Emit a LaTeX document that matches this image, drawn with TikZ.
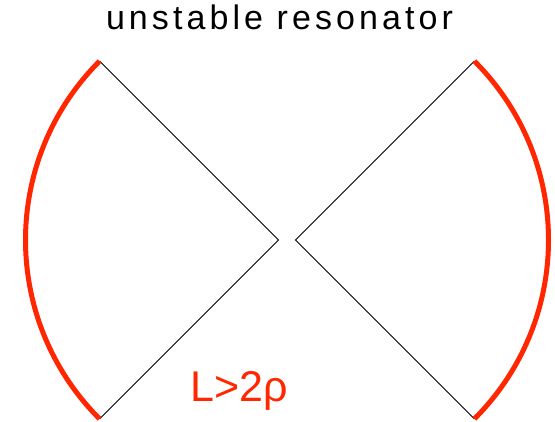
\documentclass[tikz,border=0pt]{standalone}
\usepackage{fontspec}
\setmainfont{Liberation Sans}
\newfontfamily\titlefont[LetterSpace=12]{Liberation Sans}
\usepackage{tikz}
\usetikzlibrary{calc}
\definecolor{mirrorred}{RGB}{255,38,0}
\tikzset{
mirror/.style={draw=mirrorred,line width=5pt},
ray/.style={draw=black,line width=0.8pt},
}

\begin{document}
\begin{tikzpicture}[x=1pt,y=1pt]
\useasboundingbox (0,0) rectangle (555,422);
\coordinate (focL) at (278.5,182);
\coordinate (focR) at (295.5,182);
\coordinate (mLtop) at ($(focL)+(135:253)$);
\coordinate (mLbot) at ($(focL)+(225:253)$);
\coordinate (mRtop) at ($(focR)+(45:253)$);
\coordinate (mRbot) at ($(focR)+(-45:253)$);
\node (title) [anchor=base,inner sep=0pt] at (279.5,392) {\titlefont\fontsize{34}{40}\selectfont unstable resonator};
\node (cond) [anchor=base west,inner sep=0pt,text=mirrorred] at (190,20) {\fontsize{43}{50}\selectfont L>2ρ};
\draw[ray] (mLtop) -- (focL) -- (mLbot);
\draw[ray] (mRtop) -- (focR) -- (mRbot);
\draw[mirror] (mLtop) arc[start angle=135,end angle=225,radius=253];
\draw[mirror] (mRbot) arc[start angle=-45,end angle=45,radius=253];
\end{tikzpicture}
\end{document}
